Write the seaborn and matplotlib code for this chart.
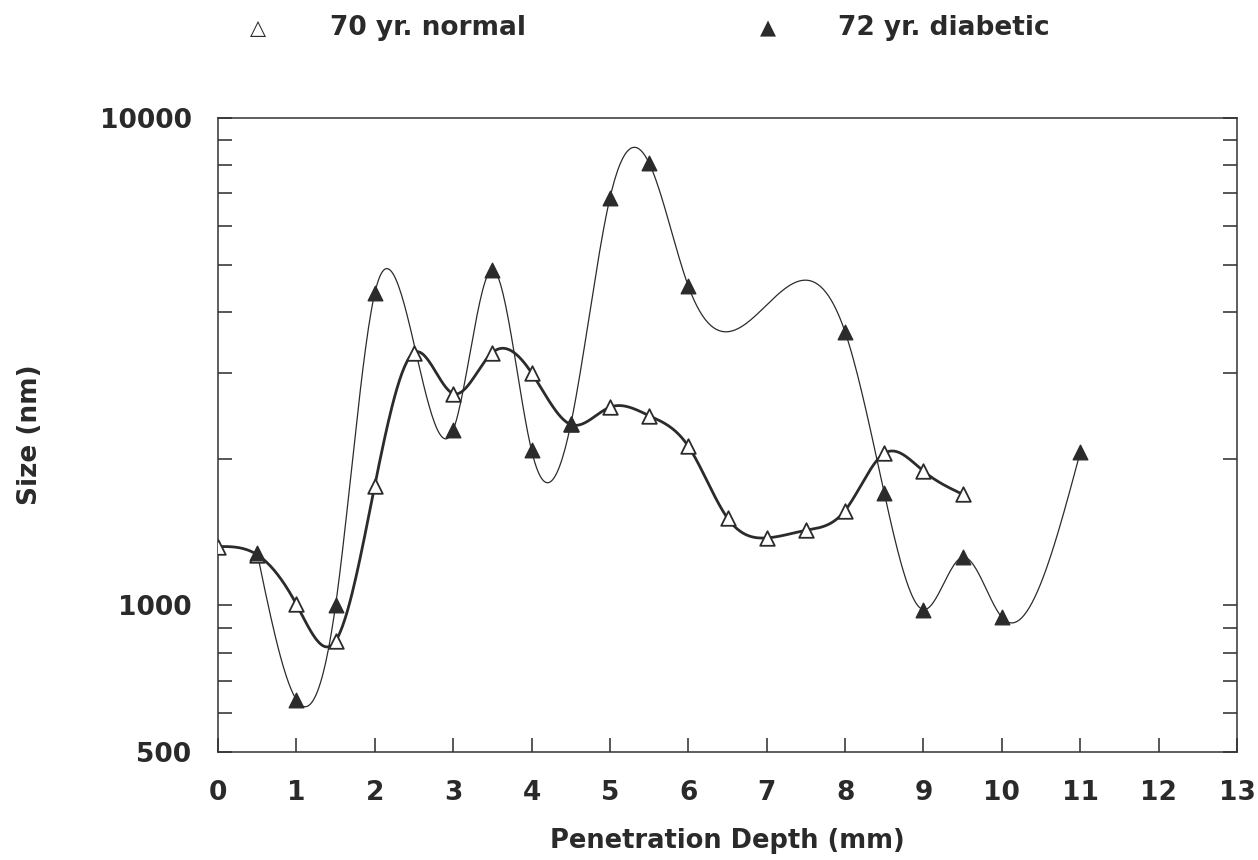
import numpy as np
import pandas as pd
import matplotlib
matplotlib.use('Agg')
import matplotlib.pyplot as plt
from matplotlib.ticker import FixedLocator, NullFormatter
import seaborn as sns

# data (size in nm vs penetration depth in mm)
depth_normal = [0, 0.5, 1, 1.5, 2, 2.5, 3, 3.5, 4, 4.5, 5, 5.5, 6, 6.5, 7, 7.5, 8, 8.5, 9, 9.5]
size_normal = [1320, 1270, 1005, 845, 1760, 3300, 2720, 3300, 3000, 2350,
               2550, 2450, 2120, 1510, 1375, 1425, 1565, 2050, 1885, 1690]

depth_diabetic = [0.5, 1, 1.5, 2, 3, 3.5, 4, 4.5, 5, 5.5, 6, 8, 8.5, 9, 9.5, 10, 11]
size_diabetic = [1280, 640, 1000, 4370, 2290, 4880, 2080, 2350, 6850, 8080,
                 4520, 3640, 1700, 980, 1255, 945, 2060]

label_normal = "70 yr. normal"
label_diabetic = "72 yr. diabetic"


def natural_spline(x, y, xs):
    # natural cubic spline, done by hand (no scipy here)
    x = np.asarray(x, float); y = np.asarray(y, float)
    n = len(x)
    h = np.diff(x)
    A = np.zeros((n, n)); b = np.zeros(n)
    A[0, 0] = 1; A[-1, -1] = 1
    for i in range(1, n - 1):
        A[i, i - 1] = h[i - 1]
        A[i, i] = 2 * (h[i - 1] + h[i])
        A[i, i + 1] = h[i]
        b[i] = 6 * ((y[i + 1] - y[i]) / h[i] - (y[i] - y[i - 1]) / h[i - 1])
    M = np.linalg.solve(A, b)
    k = np.clip(np.searchsorted(x, xs) - 1, 0, n - 2)
    t1 = x[k + 1] - xs; t0 = xs - x[k]; hk = h[k]
    return (M[k] * t1**3 / (6 * hk) + M[k + 1] * t0**3 / (6 * hk)
            + (y[k] / hk - M[k] * hk / 6) * t1 + (y[k + 1] / hk - M[k + 1] * hk / 6) * t0)


def smooth(x, y):
    xs = np.linspace(min(x), max(x), 600)
    ys = 10 ** natural_spline(x, np.log10(y), xs)
    return pd.DataFrame({"depth": xs, "size": ys})


sns.set_style("ticks")
plt.rcParams['font.family'] = ['DejaVu Sans']
plt.rcParams['font.weight'] = 'bold'

fig = plt.figure(figsize=(12.58, 8.6), dpi=100)
ax = fig.add_axes([218 / 1258, 1 - 752 / 860, 1019 / 1258, 634 / 860])

ink = '#2b2b2b'
txt = '#2a2a2a'
df_n = pd.DataFrame({"depth": depth_normal, "size": size_normal})
df_d = pd.DataFrame({"depth": depth_diabetic, "size": size_diabetic})

sns.lineplot(data=smooth(depth_normal, size_normal), x="depth", y="size", ax=ax,
             color=ink, lw=2.0, estimator=None, sort=False)
sns.lineplot(data=smooth(depth_diabetic, size_diabetic), x="depth", y="size", ax=ax,
             color=ink, lw=0.9, estimator=None, sort=False)
sns.scatterplot(data=df_n, x="depth", y="size", ax=ax, marker='^', s=110,
                facecolor='white', edgecolor=ink, linewidth=1.3, zorder=3)
sns.scatterplot(data=df_d, x="depth", y="size", ax=ax, marker='^', s=110,
                color=ink, edgecolor=ink, linewidth=1.0, zorder=4)

ax.set_yscale('log')
ax.set_xlim(0, 13)
ax.set_ylim(500, 10000)
ax.set_xticks(range(0, 14))
ax.set_yticks([500, 1000, 10000])
ax.set_yticklabels(['500', '1000', '10000'])
ax.yaxis.set_minor_locator(FixedLocator([600, 700, 800, 900] + list(range(2000, 10000, 1000))))
ax.yaxis.set_minor_formatter(NullFormatter())
ax.tick_params(axis='x', direction='in', length=10, width=1.1, top=False, pad=20,
               labelsize=19, colors=txt)
ax.tick_params(axis='y', which='both', direction='in', length=10, width=1.1, right=True,
               pad=19, labelsize=19, colors=txt)
for sp in ax.spines.values():
    sp.set_linewidth(1.1)
    sp.set_color('#333333')

ax.set_xlabel("Penetration Depth (mm)", fontsize=18.5, fontweight='bold', color=txt)
ax.set_ylabel("Size (nm)", fontsize=19, fontweight='bold', color=txt)
ax.xaxis.set_label_coords(0.5, -0.12)
ax.yaxis.set_label_coords(-0.172, 0.5)

# legend row at the top
ly = 1 - 28 / 860
fig.text(258 / 1258, ly, '△', fontsize=15, fontweight='normal', ha='center', va='center', color=ink)
fig.text(330 / 1258, ly, label_normal, fontsize=19, fontweight='bold', ha='left', va='center', color=txt)
fig.text(768 / 1258, ly, '▲', fontsize=15, fontweight='normal', ha='center', va='center', color=ink)
fig.text(838 / 1258, ly, label_diabetic, fontsize=19, fontweight='bold', ha='left', va='center', color=txt)

fig.savefig('out.png', dpi=100)
